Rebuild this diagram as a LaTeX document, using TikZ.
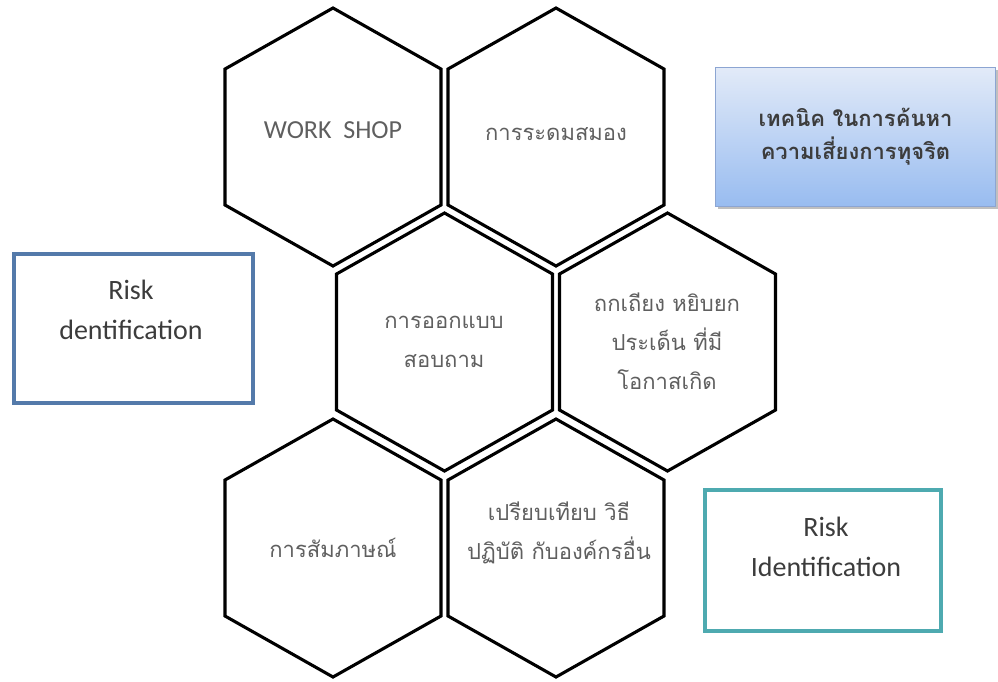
\documentclass[tikz,border=0pt]{standalone}
\usepackage{fontspec}
\setmainfont{Carlito}
\newfontfamily\thaifont[Script=Thai]{Loma}
\usetikzlibrary{shadows}
\definecolor{hexgray}{RGB}{95,95,95}
\definecolor{boxtextgray}{RGB}{60,60,60}
\definecolor{steelframe}{RGB}{84,122,170}
\definecolor{tealframe}{RGB}{78,170,176}
\definecolor{techtop}{RGB}{226,234,248}
\definecolor{techbottom}{RGB}{152,188,240}
\definecolor{techedge}{RGB}{140,165,210}
% one cell of the honeycomb, drawn round its centre
\newcommand{\hexcell}[1]{\draw[hexline] #1 ++(0,-129) -- ++(108,61) -- ++(0,136) -- ++(-108,61) -- ++(-108,-61) -- ++(0,-136) -- cycle;}

\begin{document}
\begin{tikzpicture}[x=1pt,y=-1pt,
    hexline/.style={line width=3.1pt,line join=miter},
    hextext/.style={align=center,text=hexgray,font=\thaifont\fontsize{22}{39}\selectfont},
    boxtext/.style={align=center,text=boxtextgray,font=\fontsize{28}{40}\selectfont}]
  \useasboundingbox (0,0) rectangle (998,681);
  % honeycomb
  \hexcell{(333,137)}
  \hexcell{(556,137)}
  \hexcell{(444.5,342)}
  \hexcell{(667.5,342)}
  \hexcell{(333,548)}
  \hexcell{(556,548)}
  \node[hextext,font=\fontsize{26}{30}\selectfont] (work) at (333,130) {WORK\ \ SHOP};
  \node[hextext] (brain) at (556,134) {การระดมสมอง};
  \node[hextext] (quest) at (444,342) {การออกแบบ\\สอบถาม};
  \node[hextext] (debate) at (667,341) {ถกเถียง หยิบยก\\ประเด็น ที่มี\\โอกาสเกิด};
  \node[hextext] (interv) at (333,548) {การสัมภาษณ์};
  \node[hextext] (bench) at (559,533) {เปรียบเทียบ วิธี\\ปฏิบัติ กับองค์กรอื่น};
  % side boxes
  \node[draw=steelframe,line width=4pt,minimum width=239,minimum height=149] (riskL) at (133.5,328.5) {};
  \node[boxtext] (riskLtxt) at (131,310) {Risk\\dentification};
  \node[draw=tealframe,line width=4pt,minimum width=236,minimum height=141] (riskR) at (823,560.5) {};
  \node[boxtext] (riskRtxt) at (826,547) {Risk\\Identification};
  \node[draw=techedge,line width=1pt,top color=techtop,bottom color=techbottom,drop shadow,
    minimum width=280,minimum height=139,align=center,text=boxtextgray,
    font=\thaifont\bfseries\fontsize{22}{33}\selectfont] (tech) at (855.5,137) {เทคนิค ในการค้นหา\\ความเสี่ยงการทุจริต};
\end{tikzpicture}
\end{document}
